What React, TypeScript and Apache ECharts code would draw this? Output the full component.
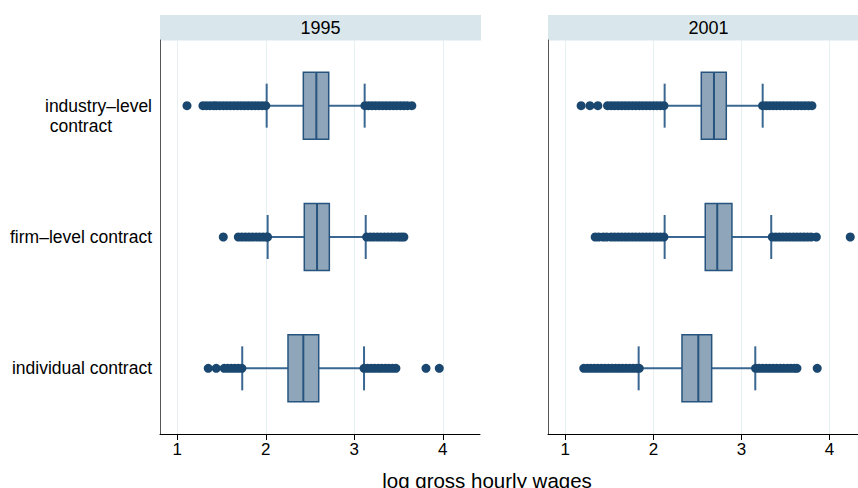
import React, { useEffect, useRef } from "react";
import * as echarts from "echarts";

const categories = ["industry–level contract", "firm–level contract", "individual contract"];
const years = ["1995", "2001"];
const tickValues = [1, 2, 3, 4];
const axisTitle = "log gross hourly wages";

// [lower whisker, Q1, median, Q3, upper whisker] per category
const box1995 = [
  [2.01, 2.424, 2.571, 2.711, 3.117],
  [2.021, 2.435, 2.579, 2.718, 3.129],
  [1.734, 2.251, 2.424, 2.598, 3.11],
];
const box2001 = [
  [2.128, 2.544, 2.688, 2.828, 3.241],
  [2.128, 2.589, 2.725, 2.892, 3.338],
  [1.833, 2.325, 2.51, 2.662, 3.157],
];

// outside values
const out1995Industry = [
  1.11, 1.29, 1.33, 1.37, 1.41, 1.44, 1.48, 1.52, 1.56, 1.6, 1.64, 1.68, 1.72, 1.76, 1.8, 1.84, 1.88, 1.92, 1.96, 2.0,
  3.12, 3.16, 3.2, 3.24, 3.28, 3.32, 3.36, 3.4, 3.44, 3.48, 3.52, 3.56, 3.6, 3.65,
];
const out1995Firm = [
  1.52, 1.69, 1.73, 1.77, 1.81, 1.85, 1.89, 1.93, 1.97, 2.01, 2.02,
  3.14, 3.18, 3.22, 3.26, 3.3, 3.34, 3.38, 3.42, 3.46, 3.5, 3.53, 3.56,
];
const out1995Individual = [
  1.35, 1.44, 1.53, 1.57, 1.61, 1.65, 1.69, 1.73,
  3.11, 3.15, 3.19, 3.23, 3.27, 3.31, 3.35, 3.39, 3.43, 3.47, 3.81, 3.96,
];
const out2001Industry = [
  1.18, 1.28, 1.37, 1.48, 1.52, 1.56, 1.6, 1.64, 1.68, 1.72, 1.76, 1.8, 1.84, 1.88, 1.92, 1.96, 2.0, 2.04, 2.08, 2.12,
  3.24, 3.28, 3.32, 3.36, 3.4, 3.44, 3.48, 3.52, 3.56, 3.6, 3.64, 3.68, 3.72, 3.76, 3.8,
];
const out2001Firm = [
  1.34, 1.38, 1.43, 1.47, 1.52, 1.56, 1.6, 1.64, 1.68, 1.72, 1.76, 1.8, 1.84, 1.88, 1.92, 1.96, 2.0, 2.04, 2.08, 2.12,
  3.35, 3.39, 3.43, 3.47, 3.51, 3.55, 3.59, 3.63, 3.67, 3.71, 3.75, 3.79, 3.85, 4.235,
];
const out2001Individual = [
  1.21, 1.25, 1.29, 1.33, 1.37, 1.41, 1.45, 1.49, 1.53, 1.57, 1.61, 1.65, 1.69, 1.73, 1.77, 1.81, 1.84,
  3.16, 3.2, 3.24, 3.28, 3.32, 3.36, 3.4, 3.44, 3.48, 3.52, 3.56, 3.6, 3.63, 3.86,
];

const outliers1995 = [out1995Industry, out1995Firm, out1995Individual];
const outliers2001 = [out2001Industry, out2001Firm, out2001Individual];

// visible x range of each panel
const xMin = [0.805, 0.804];
const xMax = [4.42, 4.323];

const NAVY = "#1a476f";
const BOX_FILL = "#8ea5ba";
const BOX_LINE = "#27547e";
const WHISKER = "#3a6791";
const FONT = "Liberation Sans, Arial, sans-serif";

function renderBox(params: any, api: any) {
  const ci = api.value(0);
  const lo = api.coord([api.value(1), ci]);
  const q1 = api.coord([api.value(2), ci]);
  const med = api.coord([api.value(3), ci]);
  const q3 = api.coord([api.value(4), ci]);
  const hi = api.coord([api.value(5), ci]);
  const band = api.size([0, 1])[1];
  const bh = band * 0.51;
  const ch = band * 0.335;
  const cy = lo[1];
  const wStyle = { stroke: WHISKER, lineWidth: 2 };
  return {
    type: "group",
    children: [
      { type: "line", shape: { x1: lo[0], y1: cy, x2: q1[0], y2: cy }, style: wStyle },
      { type: "line", shape: { x1: q3[0], y1: cy, x2: hi[0], y2: cy }, style: wStyle },
      { type: "line", shape: { x1: lo[0], y1: cy - ch / 2, x2: lo[0], y2: cy + ch / 2 }, style: wStyle },
      { type: "line", shape: { x1: hi[0], y1: cy - ch / 2, x2: hi[0], y2: cy + ch / 2 }, style: wStyle },
      {
        type: "rect",
        shape: { x: q1[0], y: cy - bh / 2, width: q3[0] - q1[0], height: bh },
        style: { fill: BOX_FILL, stroke: BOX_LINE, lineWidth: 1.5 },
      },
      { type: "line", shape: { x1: med[0], y1: cy - bh / 2, x2: med[0], y2: cy + bh / 2 }, style: { stroke: BOX_LINE, lineWidth: 2 } },
    ],
  };
}

export default function App() {
  const ref = useRef<HTMLDivElement>(null);
  useEffect(() => {
    if (!ref.current) return;
    const chart = echarts.init(ref.current, null, { renderer: "svg" });
    const boxes = [box1995, box2001];
    const outs = [outliers1995, outliers2001];
    const grids = [
      { left: 160, top: 40, width: 320, height: 394 },
      { left: 548, top: 40, width: 310, height: 394 },
    ];
    const xAxes = grids.map((_, i) => ({
      type: "value",
      gridIndex: i,
      min: xMin[i],
      max: xMax[i],
      axisLine: { show: true, onZero: false, lineStyle: { color: "#000", width: 1 } },
      axisTick: { show: true, length: 6, customValues: tickValues, lineStyle: { color: "#000" } },
      axisLabel: {
        customValues: tickValues,
        color: "#000",
        fontSize: 17,
        fontFamily: FONT,
        margin: 7,
      },
      splitLine: { show: true, lineStyle: { color: "#e6eff1", width: 1 } },
    }));
    const yAxes = grids.map((_, i) => ({
      type: "category",
      gridIndex: i,
      data: categories,
      inverse: true,
      axisLine: { show: true, lineStyle: { color: "#555", width: 1 } },
      axisTick: { show: false },
      splitLine: { show: false },
      axisLabel: {
        show: i === 0,
        color: "#000",
        fontSize: 17.5,
        fontFamily: FONT,
        margin: 8,
        lineHeight: 20,
        align: "right",
        formatter: (v: string) => {
          if (v === categories[0]) return "\n{a|industry–level}\n{b|contract}";
          return v;
        },
        rich: {
          a: { fontSize: 17.5, fontFamily: FONT, color: "#000", lineHeight: 20 },
          b: { fontSize: 17.5, fontFamily: FONT, color: "#000", lineHeight: 20, padding: [0, 40, 0, 0] },
        },
      },
    }));
    const series: any[] = [];
    boxes.forEach((box, gi) => {
      series.push({
        type: "custom",
        xAxisIndex: gi,
        yAxisIndex: gi,
        renderItem: renderBox,
        encode: { x: [1, 2, 3, 4, 5], y: 0 },
        data: box.map((b, ci) => [ci, ...b]),
        z: 2,
      });
      const pts: number[][] = [];
      outs[gi].forEach((arr, ci) => arr.forEach((v) => pts.push([v, ci])));
      series.push({
        type: "scatter",
        xAxisIndex: gi,
        yAxisIndex: gi,
        symbol: "circle",
        symbolSize: 9,
        itemStyle: { color: NAVY, opacity: 1 },
        data: pts,
        z: 3,
      });
    });
    const graphic: any[] = [];
    const stripW = [321, 321];
    grids.forEach((g, i) => {
      graphic.push({
        type: "rect",
        shape: { x: g.left, y: 15, width: stripW[i], height: 25.5 },
        style: { fill: "#d9e6eb" },
        z: 0,
      });
      graphic.push({
        type: "text",
        x: g.left + stripW[i] / 2,
        y: 27.5,
        style: { text: years[i], fontSize: 18, fontFamily: FONT, fill: "#000", align: "center", verticalAlign: "middle" },
        z: 1,
      });
    });
    graphic.push({
      type: "text",
      x: 487,
      y: 480,
      style: { text: axisTitle, fontSize: 20.5, fontFamily: FONT, fill: "#000", align: "center", verticalAlign: "middle" },
    });
    chart.setOption({
      animation: false,
      backgroundColor: "#fff",
      grid: grids,
      xAxis: xAxes,
      yAxis: yAxes,
      series,
      graphic,
    });
    return () => chart.dispose();
  }, []);
  return <div ref={ref} style={{ position: "fixed", left: 0, top: 0, width: 858, height: 488 }} />;
}
